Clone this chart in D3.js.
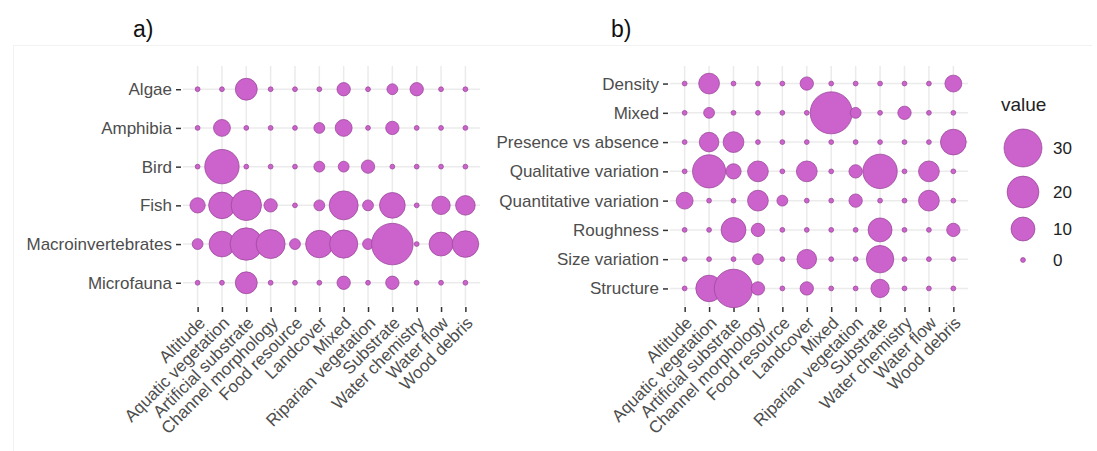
<!DOCTYPE html>
<html>
<head>
<meta charset="utf-8">
<script src="https://cdn.jsdelivr.net/npm/d3@7"></script>
<style>
  html, body { margin: 0; padding: 0; background: #fff; }
  svg { display: block; font-family: "Liberation Sans", Arial, sans-serif; }
</style>
</head>
<body>
<svg id="chart" width="1097" height="451"></svg>
<script>
// Habitat variables shared by both panels (x axis)
const variables = ["Altitude", "Aquatic vegetation", "Artificial substrate", "Channel morphology",
  "Food resource", "Landcover", "Mixed", "Riparian vegetation", "Substrate",
  "Water chemistry", "Water flow", "Wood debris"];

// Panel a: biological groups (top to bottom)
const groups = ["Algae", "Amphibia", "Bird", "Fish", "Macroinvertebrates", "Microfauna"];
const algae              = [0, 0, 8, 0, 0, 0, 2, 0, 1, 2, 0, 0];
const amphibia           = [0, 4, 0, 0, 0, 1, 4, 0, 2, 0, 0, 0];
const bird               = [0, 24, 0, 0, 0, 1, 1, 2, 0, 0, 0, 0];
const fish               = [3, 13, 18, 2, 0, 1, 16, 1, 12, 0, 5, 6];
const macroinvertebrates = [1, 12, 21, 16, 1, 14, 15, 1, 37, 0, 10, 13];
const microfauna         = [0, 0, 8, 0, 0, 0, 2, 0, 2, 0, 0, 0];
const valuesA = [algae, amphibia, bird, fish, macroinvertebrates, microfauna];

// Panel b: types of habitat heterogeneity (top to bottom)
const heterogeneity = ["Density", "Mixed", "Presence vs absence", "Qualitative variation",
  "Quantitative variation", "Roughness", "Size variation", "Structure"];
const density        = [0, 7, 0, 0, 0, 2, 0, 0, 0, 0, 0, 4];
const mixedType      = [0, 1, 0, 0, 0, 0, 38, 1, 0, 2, 0, 0];
const presence       = [0, 6, 7, 0, 0, 0, 0, 0, 0, 0, 0, 12];
const qualitative    = [0, 22, 3, 7, 0, 7, 0, 2, 24, 0, 7, 0];
const quantitative   = [4, 0, 0, 7, 1, 0, 0, 2, 0, 0, 7, 0];
const roughness      = [0, 0, 11, 2, 0, 0, 0, 0, 10, 0, 0, 2];
const sizeVariation  = [0, 0, 0, 1, 0, 6, 0, 0, 14, 0, 0, 0];
const structure      = [0, 13, 31, 2, 0, 2, 0, 0, 5, 0, 0, 0];
const valuesB = [density, mixedType, presence, qualitative, quantitative, roughness, sizeVariation, structure];

// Size legend breaks
const legendBreaks = [30, 20, 10, 0];

const svg = d3.select("#chart");
const FILL = "#cc62cc", STROKE = "#9c4a9c", GRID = "#ebebeb", TEXT = "#4d4d4d";
const AXIS_FONT = "17px";

// faint outer frame of the figure
svg.append("line").attr("x1", 13).attr("x2", 1092).attr("y1", 45.5).attr("y2", 45.5)
  .attr("stroke", "#f2f2f2").attr("stroke-width", 1);
svg.append("line").attr("x1", 13.5).attr("x2", 13.5).attr("y1", 45).attr("y2", 451)
  .attr("stroke", "#f2f2f2").attr("stroke-width", 1);

// common size scale (area-proportional)
const size = d3.scaleSqrt().domain([0, 38]).range([2.4, 21]);

function panel(cfg) {
  const g = svg.append("g");
  const x = d3.scalePoint().domain(variables).range([cfg.x0, cfg.x1]).padding(0.6);
  const y = d3.scalePoint().domain(cfg.rows).range([cfg.y0, cfg.y1]).padding(0.6);

  // grid
  g.append("g").selectAll("line").data(variables).join("line")
    .attr("x1", d => x(d)).attr("x2", d => x(d)).attr("y1", cfg.y0).attr("y2", cfg.y1)
    .attr("stroke", GRID).attr("stroke-width", 1.5);
  g.append("g").selectAll("line").data(cfg.rows).join("line")
    .attr("y1", d => y(d)).attr("y2", d => y(d)).attr("x1", cfg.x0).attr("x2", cfg.x1)
    .attr("stroke", GRID).attr("stroke-width", 1.5);

  // y axis
  const yAxis = d3.axisLeft(y).tickSize(5).tickPadding(4);
  const ya = g.append("g").attr("transform", `translate(${cfg.x0 - 2},0)`).call(yAxis);
  ya.select(".domain").remove();
  ya.selectAll(".tick line").attr("stroke", "#333").attr("stroke-width", 1.5);
  ya.selectAll(".tick text").attr("fill", TEXT).style("font-size", AXIS_FONT);

  // x axis
  const xAxis = d3.axisBottom(x).tickSize(5).tickPadding(4);
  const xa = g.append("g").attr("transform", `translate(0,${cfg.y1 + 1})`).call(xAxis);
  xa.select(".domain").remove();
  xa.selectAll(".tick line").attr("stroke", "#333").attr("stroke-width", 1.5);
  xa.selectAll(".tick text").attr("fill", TEXT).style("font-size", AXIS_FONT)
    .attr("text-anchor", "end").attr("dy", null).attr("y", null)
    .attr("transform", "translate(8,17) rotate(-45)");

  // bubbles
  const cells = [];
  cfg.rows.forEach((r, i) => cfg.values[i].forEach((v, j) => cells.push({ r, c: variables[j], v })));
  g.append("g").selectAll("circle").data(cells).join("circle")
    .attr("cx", d => x(d.c)).attr("cy", d => y(d.r)).attr("r", d => size(d.v))
    .attr("fill", FILL).attr("stroke", STROKE).attr("stroke-width", 0.8);

  // panel tag
  svg.append("text").attr("x", cfg.tagX).attr("y", 37).text(cfg.tag)
    .style("font-size", "23px").attr("fill", "#111");
}

panel({ rows: groups, values: valuesA, x0: 183, x1: 480, y0: 66, y1: 306, tag: "a)", tagX: 133 });
panel({ rows: heterogeneity, values: valuesB, x0: 670, x1: 968, y0: 66, y1: 306, tag: "b)", tagX: 611 });

// legend
const lg = svg.append("g");
lg.append("text").attr("x", 1001).attr("y", 111).text("value")
  .style("font-size", "19px").attr("fill", "#222");
const legendY = d3.scaleOrdinal().domain(legendBreaks).range([148, 192, 229, 260]);
lg.selectAll("circle").data(legendBreaks).join("circle")
  .attr("cx", 1023).attr("cy", d => legendY(d)).attr("r", d => size(d))
  .attr("fill", FILL).attr("stroke", STROKE).attr("stroke-width", 0.8);
lg.selectAll("text.lab").data(legendBreaks).join("text").attr("class", "lab")
  .attr("x", 1053).attr("y", d => legendY(d) + 6).text(d => d)
  .style("font-size", "17px").attr("fill", "#222");
</script>
</body>
</html>
